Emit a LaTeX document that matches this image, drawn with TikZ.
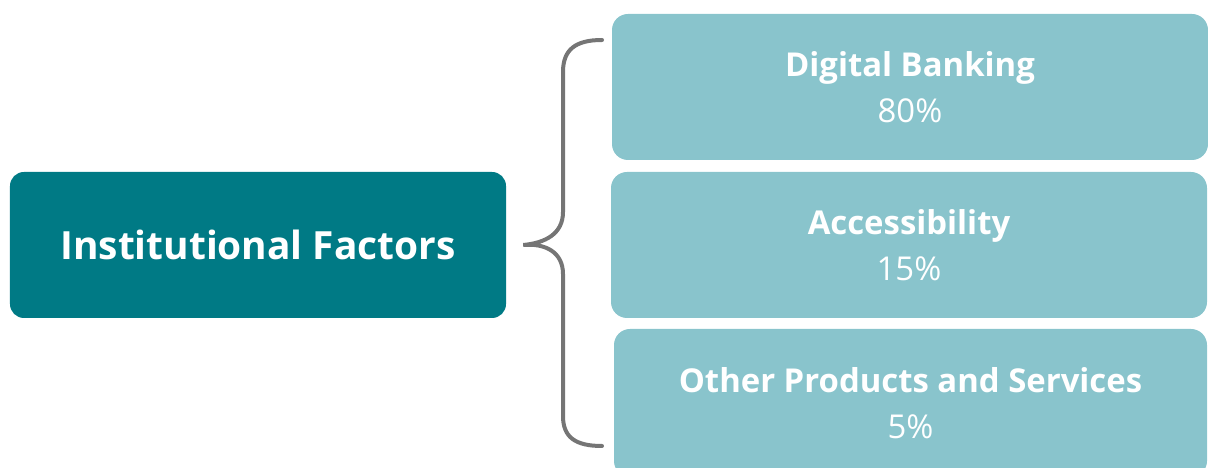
\documentclass[tikz,border=0pt]{standalone}
\usepackage{fontspec}
\setmainfont{Open Sans}
\definecolor{myteal}{RGB}{0,122,133}
\definecolor{mylight}{RGB}{137,196,204}
\colorlet{mygray}{black!54}

\begin{document}
\begin{tikzpicture}[x=1bp,y=-1bp]
\useasboundingbox (0,0) rectangle (1208,468);
\tikzset{FactorStyle/.style ={shape=rectangle, rounded corners=14bp, fill=myteal, text=white, minimum width=496bp, minimum height=146bp, font=\fontsize{39}{44}\selectfont\bfseries}}
\tikzset{ShareStyle/.style ={shape=rectangle, rounded corners=16bp, fill=mylight, text=white, minimum width=596bp, minimum height=146bp, align=center, font=\fontsize{33}{46}\selectfont}}
\tikzset{BraceStyle/.style ={draw=mygray, line width=4bp, line cap=round}}
\node[FactorStyle] (inst) at (258,245) {Institutional Factors};
\node[ShareStyle] (digital) at (910,87) {\textbf{Digital Banking}\\80\%};
\node[ShareStyle] (access) at (909,245) {\textbf{Accessibility}\\15\%};
\node[ShareStyle, minimum width=593bp, minimum height=148bp] (other) at (910.5,403) {\textbf{Other Products and Services}\\5\%};
\coordinate (tip) at ([xshift=17bp]inst.east);
\coordinate (top) at (602,40);
\coordinate (bot) at (602,446);
\draw[BraceStyle] (top) .. controls (575,40) and (563,50) .. (563,72) -- (563,212)
  .. controls (563,234) and (545,243) .. (tip)
  .. controls (545,243) and (563,252) .. (563,274) -- (563,416)
  .. controls (563,437) and (575,446) .. (bot);
\end{tikzpicture}
\end{document}
